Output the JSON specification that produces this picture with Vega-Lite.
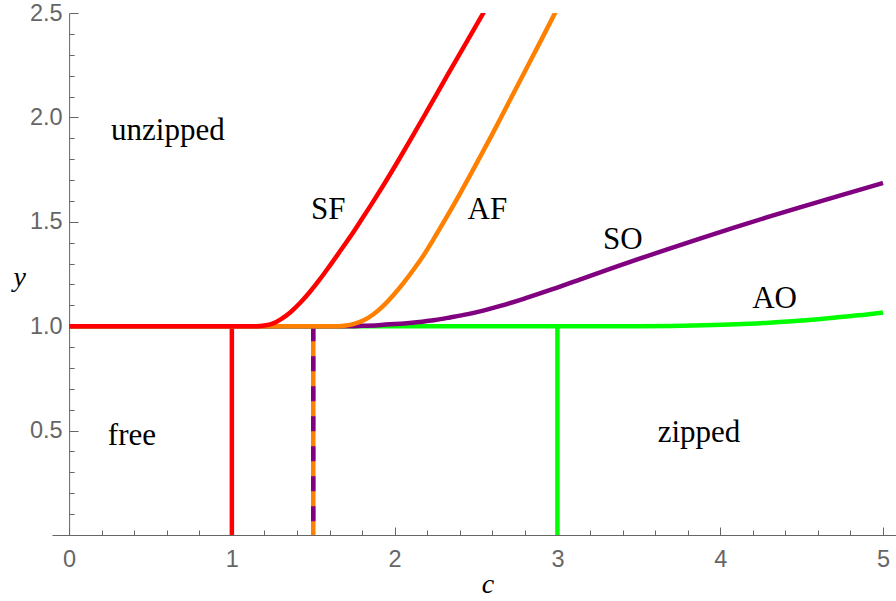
{
  "$schema": "https://vega.github.io/schema/vega-lite/v6.json",
  "width": 844,
  "height": 522,
  "autosize": "none",
  "padding": {"left": 52, "top": 13, "right": 0, "bottom": 66},
  "background": "white",
  "config": {"view": {"stroke": null}},
  "datasets": {
    "curves": [
      {"series": "SF", "c": 0, "y": 1}, {"series": "SF", "c": 1.0, "y": 1}, {"series": "SF", "c": 1.15, "y": 1.0},
      {"series": "SF", "c": 1.2, "y": 1.003}, {"series": "SF", "c": 1.25, "y": 1.012}, {"series": "SF", "c": 1.3, "y": 1.033},
      {"series": "SF", "c": 1.36, "y": 1.067}, {"series": "SF", "c": 1.42, "y": 1.112}, {"series": "SF", "c": 1.48, "y": 1.165},
      {"series": "SF", "c": 1.54, "y": 1.224}, {"series": "SF", "c": 1.6, "y": 1.288}, {"series": "SF", "c": 1.66, "y": 1.354},
      {"series": "SF", "c": 1.73, "y": 1.432}, {"series": "SF", "c": 1.79, "y": 1.503}, {"series": "SF", "c": 1.86, "y": 1.587},
      {"series": "SF", "c": 1.93, "y": 1.674}, {"series": "SF", "c": 2.02, "y": 1.79}, {"series": "SF", "c": 2.11, "y": 1.91},
      {"series": "SF", "c": 2.2, "y": 2.032}, {"series": "SF", "c": 2.32, "y": 2.196}, {"series": "SF", "c": 2.44, "y": 2.358},
      {"series": "SF", "c": 2.55, "y": 2.507},
      {"series": "AF", "c": 0, "y": 1}, {"series": "AF", "c": 1.65, "y": 1.0}, {"series": "AF", "c": 1.7, "y": 1.003},
      {"series": "AF", "c": 1.75, "y": 1.011}, {"series": "AF", "c": 1.81, "y": 1.028}, {"series": "AF", "c": 1.87, "y": 1.057},
      {"series": "AF", "c": 1.93, "y": 1.097}, {"series": "AF", "c": 1.99, "y": 1.147}, {"series": "AF", "c": 2.05, "y": 1.203},
      {"series": "AF", "c": 2.12, "y": 1.275}, {"series": "AF", "c": 2.18, "y": 1.342}, {"series": "AF", "c": 2.24, "y": 1.418},
      {"series": "AF", "c": 2.3, "y": 1.497}, {"series": "AF", "c": 2.4, "y": 1.633}, {"series": "AF", "c": 2.5, "y": 1.775},
      {"series": "AF", "c": 2.6, "y": 1.92}, {"series": "AF", "c": 2.7, "y": 2.07}, {"series": "AF", "c": 2.8, "y": 2.22},
      {"series": "AF", "c": 2.9, "y": 2.37}, {"series": "AF", "c": 2.99, "y": 2.507},
      {"series": "SO", "c": 0, "y": 1}, {"series": "SO", "c": 1.7, "y": 1.0}, {"series": "SO", "c": 1.8, "y": 1.002},
      {"series": "SO", "c": 1.9, "y": 1.005}, {"series": "SO", "c": 2.0, "y": 1.01}, {"series": "SO", "c": 2.135, "y": 1.019},
      {"series": "SO", "c": 2.25, "y": 1.03}, {"series": "SO", "c": 2.34, "y": 1.042}, {"series": "SO", "c": 2.45, "y": 1.058},
      {"series": "SO", "c": 2.55, "y": 1.076}, {"series": "SO", "c": 2.65, "y": 1.097}, {"series": "SO", "c": 2.8, "y": 1.133},
      {"series": "SO", "c": 2.97, "y": 1.177}, {"series": "SO", "c": 3.15, "y": 1.227}, {"series": "SO", "c": 3.34, "y": 1.279},
      {"series": "SO", "c": 3.5, "y": 1.322}, {"series": "SO", "c": 3.67, "y": 1.367}, {"series": "SO", "c": 3.88, "y": 1.421},
      {"series": "SO", "c": 4.08, "y": 1.471}, {"series": "SO", "c": 4.29, "y": 1.522}, {"series": "SO", "c": 4.49, "y": 1.569},
      {"series": "SO", "c": 4.75, "y": 1.629}, {"series": "SO", "c": 5.0, "y": 1.686},
      {"series": "AO", "c": 0, "y": 1}, {"series": "AO", "c": 3.5, "y": 1.0}, {"series": "AO", "c": 3.7, "y": 1.001},
      {"series": "AO", "c": 3.9, "y": 1.004}, {"series": "AO", "c": 4.1, "y": 1.009}, {"series": "AO", "c": 4.3, "y": 1.017},
      {"series": "AO", "c": 4.5, "y": 1.027}, {"series": "AO", "c": 4.7, "y": 1.041}, {"series": "AO", "c": 4.85, "y": 1.052},
      {"series": "AO", "c": 5.0, "y": 1.066}
    ],
    "vlines": [
      {"series": "SF", "c": 1, "top": 1, "bottom": 0},
      {"series": "AF", "c": 1.5, "top": 1, "bottom": 0},
      {"series": "SO", "c": 1.5, "top": 1, "bottom": 0},
      {"series": "AO", "c": 3, "top": 1, "bottom": 0}
    ],
    "labels": [
      {"label": "unzipped", "c": 0.607, "y": 1.89},
      {"label": "SF", "c": 1.592, "y": 1.512},
      {"label": "AF", "c": 2.57, "y": 1.512},
      {"label": "SO", "c": 3.402, "y": 1.368},
      {"label": "AO", "c": 4.334, "y": 1.087},
      {"label": "free", "c": 0.386, "y": 0.43},
      {"label": "zipped", "c": 3.87, "y": 0.445}
    ]
  },
  "layer": [
    {
      "data": {"name": "vlines"},
      "transform": [{"filter": "datum.series !== 'SO'"}],
      "mark": {"type": "rule", "strokeWidth": 4.5},
      "encoding": {
        "x": {"field": "c", "type": "quantitative", "scale": {"domain": [-0.105, 5.08], "nice": false, "zero": false},
          "axis": {"orient": "bottom", "values": [0.2,0.4,0.6,0.8,1.2,1.4,1.6,1.8,2.2,2.4,2.6,2.8,3.2,3.4,3.6,3.8,4.2,4.4,4.6,4.8], "labels": false, "domain": false, "tickSize": -5, "tickColor": "#666", "tickWidth": 1, "grid": false, "title": null}},
        "y": {"field": "top", "type": "quantitative", "scale": {"domain": [0, 2.5], "nice": false, "zero": false},
          "axis": {"orient": "left", "offset": -17.1, "values": [0.1,0.2,0.3,0.4,0.6,0.7,0.8,0.9,1.1,1.2,1.3,1.4,1.6,1.7,1.8,1.9,2.1,2.2,2.3,2.4], "labels": false, "domain": false, "tickSize": -5, "tickColor": "#666", "tickWidth": 1, "grid": false, "title": null}},
        "y2": {"field": "bottom"},
        "color": {"field": "series", "type": "nominal", "scale": {"domain": ["SF", "AF", "SO", "AO"], "range": ["#ff0000", "#ff8000", "#800080", "#00ff00"]}, "legend": null}
      }
    },
    {
      "data": {"name": "vlines"},
      "transform": [{"filter": "datum.series === 'SO'"}],
      "mark": {"type": "rule", "strokeWidth": 4.5, "strokeDash": [15, 15]},
      "encoding": {
        "x": {"field": "c", "type": "quantitative", "scale": {"domain": [-0.105, 5.08], "nice": false, "zero": false},
          "axis": {"orient": "bottom", "values": [0, 1, 2, 3, 4, 5], "labels": false, "domain": false, "tickSize": -8, "tickColor": "#666", "tickWidth": 1, "grid": false, "title": null}},
        "y": {"field": "top", "type": "quantitative", "scale": {"domain": [0, 2.5], "nice": false, "zero": false},
          "axis": {"orient": "left", "offset": -17.1, "values": [0.5, 1, 1.5, 2, 2.5], "labels": false, "domain": false, "tickSize": -9, "tickColor": "#666", "tickWidth": 1, "grid": false, "title": null}},
        "y2": {"field": "bottom"},
        "color": {"field": "series", "type": "nominal", "legend": null}
      }
    },
    {
      "data": {"name": "curves"},
      "transform": [{"filter": "datum.series === 'AO'"}],
      "mark": {"type": "line", "strokeWidth": 4.5, "interpolate": "monotone", "clip": true},
      "encoding": {
        "x": {"field": "c", "type": "quantitative", "scale": {"domain": [-0.105, 5.08], "nice": false, "zero": false},
          "axis": {"orient": "bottom", "values": [0, 1, 2, 3, 4, 5], "format": "d", "ticks": false, "domainColor": "#666", "domainWidth": 1, "grid": false,
            "labelFont": "Liberation Sans", "labelFontSize": 23.5, "labelColor": "#666", "labelPadding": 12, "labelFlush": false, "labelOverlap": false,
            "title": "c", "titleFont": "Liberation Serif", "titleFontStyle": "italic", "titleFontWeight": "normal", "titleFontSize": 28, "titleColor": "black",
            "titleX": 435.5, "titleY": 57, "titleAlign": "center", "titleBaseline": "alphabetic"}},
        "y": {"field": "y", "type": "quantitative", "scale": {"domain": [0, 2.5], "nice": false, "zero": false},
          "axis": {"orient": "left", "offset": -17.1, "values": [0.5, 1, 1.5, 2, 2.5], "format": ".1f", "ticks": false, "domainColor": "#666", "domainWidth": 1, "grid": false,
            "labelFont": "Liberation Sans", "labelFontSize": 23.5, "labelColor": "#666", "labelPadding": 7, "labelFlush": false, "labelOverlap": false,
            "title": "y", "titleFont": "Liberation Serif", "titleFontStyle": "italic", "titleFontWeight": "normal", "titleFontSize": 28, "titleColor": "black",
            "titleAngle": 0, "titleX": -50, "titleY": 272, "titleAlign": "center", "titleBaseline": "alphabetic"}},
        "color": {"field": "series", "type": "nominal", "legend": null}
      }
    },
    {
      "data": {"name": "curves"},
      "transform": [{"filter": "datum.series === 'SO'"}],
      "mark": {"type": "line", "strokeWidth": 4.5, "interpolate": "monotone", "clip": true},
      "encoding": {
        "x": {"field": "c", "type": "quantitative", "scale": {"domain": [-0.105, 5.08], "nice": false, "zero": false}, "axis": null},
        "y": {"field": "y", "type": "quantitative", "scale": {"domain": [0, 2.5], "nice": false, "zero": false}, "axis": null},
        "color": {"field": "series", "type": "nominal", "legend": null}
      }
    },
    {
      "data": {"name": "curves"},
      "transform": [{"filter": "datum.series === 'AF'"}],
      "mark": {"type": "line", "strokeWidth": 4.5, "interpolate": "monotone", "clip": true},
      "encoding": {
        "x": {"field": "c", "type": "quantitative", "scale": {"domain": [-0.105, 5.08], "nice": false, "zero": false}, "axis": null},
        "y": {"field": "y", "type": "quantitative", "scale": {"domain": [0, 2.5], "nice": false, "zero": false}, "axis": null},
        "color": {"field": "series", "type": "nominal", "legend": null}
      }
    },
    {
      "data": {"name": "curves"},
      "transform": [{"filter": "datum.series === 'SF'"}],
      "mark": {"type": "line", "strokeWidth": 4.5, "interpolate": "monotone", "clip": true},
      "encoding": {
        "x": {"field": "c", "type": "quantitative", "scale": {"domain": [-0.105, 5.08], "nice": false, "zero": false}, "axis": null},
        "y": {"field": "y", "type": "quantitative", "scale": {"domain": [0, 2.5], "nice": false, "zero": false}, "axis": null},
        "color": {"field": "series", "type": "nominal", "legend": null}
      }
    },
    {
      "data": {"name": "labels"},
      "mark": {"type": "text", "font": "Liberation Serif", "fontSize": 31, "color": "black", "align": "center", "baseline": "alphabetic"},
      "encoding": {
        "x": {"field": "c", "type": "quantitative", "scale": {"domain": [-0.105, 5.08], "nice": false, "zero": false}, "axis": null},
        "y": {"field": "y", "type": "quantitative", "scale": {"domain": [0, 2.5], "nice": false, "zero": false}, "axis": null},
        "text": {"field": "label"}
      }
    }
  ],
  "resolve": {"axis": {"x": "independent", "y": "independent"}}
}
